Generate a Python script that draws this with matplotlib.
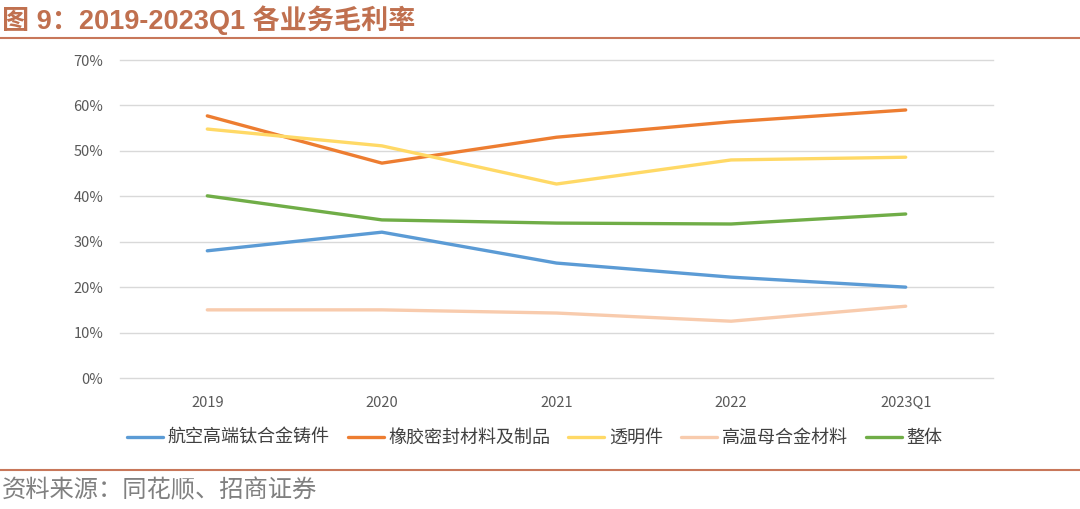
import numpy as np
from matplotlib import pyplot as plt
from matplotlib.lines import Line2D

plt.rcParams['font.family'] = ['Noto Sans CJK SC', 'DejaVu Sans']

years = ['2019', '2020', '2021', '2022', '2023Q1']
series_names = ['航空高端钛合金铸件', '橡胶密封材料及制品', '透明件', '高温母合金材料', '整体']
titanium = [28.0, 32.1, 25.3, 22.2, 20.0]
rubber = [57.7, 47.3, 53.0, 56.4, 59.0]
transparent = [54.8, 51.1, 42.7, 48.0, 48.6]
alloy = [15.0, 15.0, 14.3, 12.5, 15.8]
overall = [40.1, 34.8, 34.1, 33.9, 36.1]
colors = ['#5B9BD5', '#ED7D31', '#FFD966', '#F8CBAD', '#70AD47']
yticks = [0, 10, 20, 30, 40, 50, 60, 70]

fig = plt.figure(figsize=(10.8, 5.09), dpi=100)
ax = fig.add_axes([120/1080, 1-378/509, 873/1080, 318/509])

x = np.arange(len(years))
for vals, c, name in zip([titanium, rubber, transparent, alloy, overall], colors, series_names):
    ax.plot(x, vals, color=c, lw=2.4, label=name, solid_capstyle='round')

ax.set_xlim(-0.5, len(years) - 0.5)
ax.set_ylim(0, 70)
ax.set_yticks(yticks)
ax.set_yticklabels([f'{v}%' for v in yticks])
ax.set_xticks(x)
ax.set_xticklabels(years)
ax.grid(axis='y', color='#D9D9D9', lw=1)
for gl in ax.get_ygridlines():
    gl.set_clip_on(False)
ax.set_axisbelow(True)
for s in ax.spines.values():
    s.set_visible(False)
ax.tick_params(length=0, colors='#595959', labelsize=10.5)
ax.tick_params(axis='x', pad=13)
ax.tick_params(axis='y', pad=12)

fig.legend(loc='center', bbox_to_anchor=(0.495, 1-438/509), ncol=5, frameon=False,
           fontsize=13, handlelength=2.0, columnspacing=1.0, handletextpad=0.25,
           labelcolor='#404040')

# title and rules
fig.text(0.002, 1-20/509, '图 9：2019-2023Q1 各业务毛利率', fontsize=19.5, fontweight='bold',
         color='#C0704F', va='center', ha='left',
         family=['Liberation Sans', 'Noto Sans CJK SC'])
fig.add_artist(Line2D([0, 1], [1-38/509, 1-38/509], color='#C8775A', lw=1.5))
fig.add_artist(Line2D([0, 1], [1-470/509, 1-470/509], color='#C8775A', lw=1.5))
fig.text(0.002, 1-490/509, '资料来源：同花顺、招商证券', fontsize=17.5, color='#808080',
         va='center', ha='left')

fig.savefig('out.png', dpi=100)
